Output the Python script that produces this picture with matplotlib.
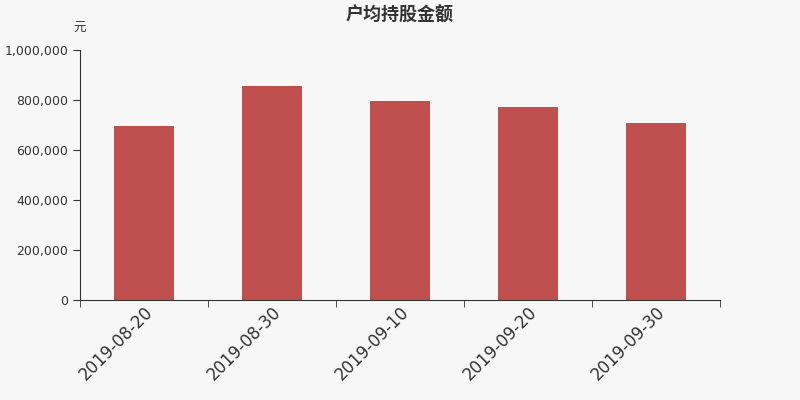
import matplotlib.pyplot as plt
from matplotlib.ticker import FuncFormatter

plt.rcParams['font.family'] = ['DejaVu Sans', 'Noto Sans CJK SC']

dates = ["2019-08-20", "2019-08-30", "2019-09-10", "2019-09-20", "2019-09-30"]
amounts = [696000, 856000, 796000, 772000, 709000]


def main():
    fig = plt.figure(figsize=(8, 4), dpi=100, facecolor="#f7f7f7")
    ax = fig.add_axes([0.1, 0.25, 0.8, 0.625], facecolor="#f7f7f7")

    pos = list(range(len(dates)))
    ax.bar(pos, amounts, width=0.47, color="#c0504d")

    ax.set_xlim(-0.5, len(dates) - 0.5)
    ax.set_ylim(0, 1000000)
    ax.set_yticks(range(0, 1000001, 200000))
    ax.yaxis.set_major_formatter(FuncFormatter(lambda v, _: f"{int(v):,}"))

    ax.set_xticks(pos)
    ax.set_xticklabels(dates, rotation=45, ha="right", rotation_mode="anchor",
                       fontsize=12, color="#333333")
    ax.set_xticks([p - 0.5 for p in pos] + [len(dates) - 0.5], minor=True)
    ax.tick_params(axis="x", which="major", length=0, pad=2)
    ax.tick_params(axis="x", which="minor", length=5, color="#333333")
    ax.tick_params(axis="y", length=5, labelsize=9, colors="#333333")

    for side in ["top", "right"]:
        ax.spines[side].set_visible(False)
    for side in ["left", "bottom"]:
        ax.spines[side].set_color("#333333")

    cjk = ['Noto Sans CJK SC', 'DejaVu Sans']
    fig.text(0.099, 0.93, "元", ha="center", va="center", fontsize=9,
             color="#333333", family=cjk)
    fig.suptitle("户均持股金额", y=0.985, fontsize=13, fontweight="bold",
                 color="#333333", family=cjk)

    fig.savefig("out.png", dpi=100, facecolor=fig.get_facecolor())


if __name__ == "__main__":
    main()
